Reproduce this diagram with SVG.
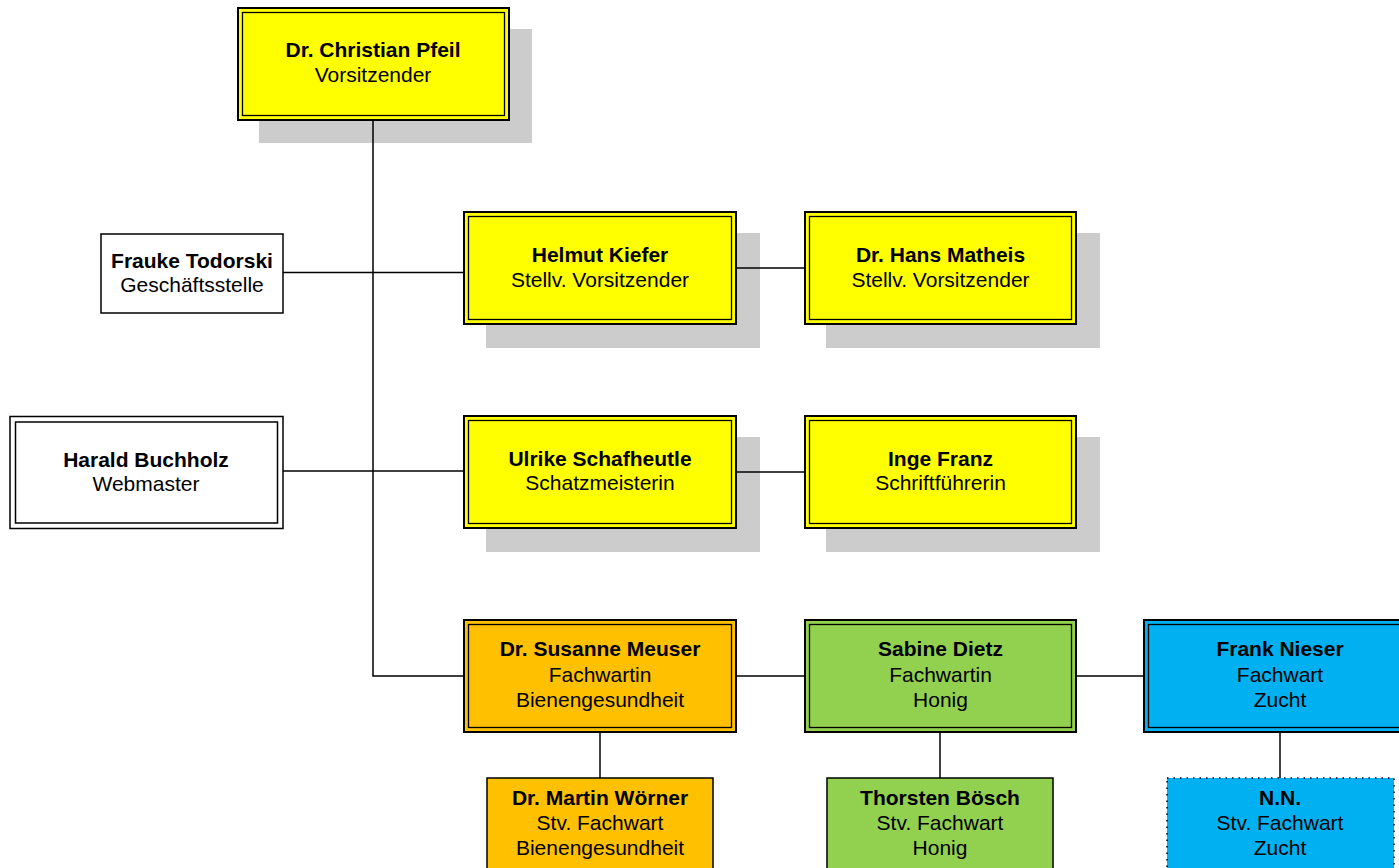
<svg xmlns="http://www.w3.org/2000/svg" width="1399" height="868" viewBox="0 0 1399 868">
<style>
.shadow{fill:#cccccc;stroke:none}
.o{stroke:#000;stroke-width:2;fill:none}
.i{stroke:#000;stroke-width:1.3;fill:none}
.s{stroke:#000;stroke-width:1.5}
.ln{stroke:#000;stroke-width:1.5;fill:none}
.y{fill:#ffff00}
.or{fill:#ffc000}
.g{fill:#92d050}
.b{fill:#00b0f0}
.w{fill:#ffffff}
text{font-family:"Liberation Sans",Arial,sans-serif;font-size:21px;text-anchor:middle;fill:#000}
.bd{font-weight:bold}
</style>
<rect width="1399" height="868" fill="#ffffff"/>
<g id="shadows">
<rect class="shadow" x="259" y="29" width="273" height="114"/>
<rect class="shadow" x="486" y="233" width="274" height="115"/>
<rect class="shadow" x="826" y="233" width="274" height="115"/>
<rect class="shadow" x="486" y="437" width="274" height="115"/>
<rect class="shadow" x="826" y="437" width="274" height="115"/>
</g>
<g id="connectors">
<path class="ln" d="M373,120 V676 H463"/>
<path class="ln" d="M283,272.5 H463"/>
<path class="ln" d="M283,471 H463"/>
<path class="ln" d="M737,268 H804"/>
<path class="ln" d="M737,472 H804"/>
<path class="ln" d="M737,676 H804"/>
<path class="ln" d="M1077,676 H1143"/>
<path class="ln" d="M600,733 V778"/>
<path class="ln" d="M940,733 V778"/>
<path class="ln" d="M1280,733 V778"/>
</g>
<g id="pfeil">
<rect class="y o" x="238" y="8" width="271" height="112"/>
<rect class="i" x="242.5" y="12.5" width="262" height="103"/>
<text x="373" y="57" class="bd">Dr. Christian Pfeil</text>
<text x="373" y="82">Vorsitzender</text>
</g>
<g id="todorski">
<rect class="w s" x="101" y="234" width="182" height="79"/>
<text x="192" y="268" class="bd">Frauke Todorski</text>
<text x="192" y="292">Geschäftsstelle</text>
</g>
<g id="buchholz">
<rect class="w s" x="10" y="416.5" width="273" height="112"/>
<rect class="ln" x="15.5" y="422" width="262" height="101"/>
<text x="146" y="467" class="bd">Harald Buchholz</text>
<text x="146" y="491">Webmaster</text>
</g>
<g id="kiefer">
<rect class="y o" x="464" y="212" width="272" height="112"/>
<rect class="i" x="468.5" y="216.5" width="263" height="103"/>
<text x="600" y="262" class="bd">Helmut Kiefer</text>
<text x="600" y="287">Stellv. Vorsitzender</text>
</g>
<g id="matheis">
<rect class="y o" x="805" y="212" width="271" height="112"/>
<rect class="i" x="809.5" y="216.5" width="262" height="103"/>
<text x="940.5" y="262" class="bd">Dr. Hans Matheis</text>
<text x="940.5" y="287">Stellv. Vorsitzender</text>
</g>
<g id="schafheutle">
<rect class="y o" x="464" y="416" width="272" height="112"/>
<rect class="i" x="468.5" y="420.5" width="263" height="103"/>
<text x="600" y="466" class="bd">Ulrike Schafheutle</text>
<text x="600" y="490">Schatzmeisterin</text>
</g>
<g id="franz">
<rect class="y o" x="805" y="416" width="271" height="112"/>
<rect class="i" x="809.5" y="420.5" width="262" height="103"/>
<text x="940.5" y="466" class="bd">Inge Franz</text>
<text x="940.5" y="490">Schriftführerin</text>
</g>
<g id="meuser">
<rect class="or o" x="464" y="620" width="272" height="112"/>
<rect class="i" x="468.5" y="624.5" width="263" height="103"/>
<text x="600" y="656" class="bd">Dr. Susanne Meuser</text>
<text x="600" y="682">Fachwartin</text>
<text x="600" y="707">Bienengesundheit</text>
</g>
<g id="dietz">
<rect class="g o" x="805" y="620" width="271" height="112"/>
<rect class="i" x="809.5" y="624.5" width="262" height="103"/>
<text x="940.5" y="656" class="bd">Sabine Dietz</text>
<text x="940.5" y="682">Fachwartin</text>
<text x="940.5" y="707">Honig</text>
</g>
<g id="nieser">
<rect class="b o" x="1144" y="620" width="272" height="112"/>
<rect class="i" x="1148.5" y="624.5" width="263" height="103"/>
<text x="1280" y="656" class="bd">Frank Nieser</text>
<text x="1280" y="682">Fachwart</text>
<text x="1280" y="707">Zucht</text>
</g>
<g id="woerner">
<rect class="or s" x="487" y="778" width="226" height="110"/>
<text x="600" y="805" class="bd">Dr. Martin Wörner</text>
<text x="600" y="830">Stv. Fachwart</text>
<text x="600" y="855">Bienengesundheit</text>
</g>
<g id="boesch">
<rect class="g s" x="827" y="778" width="226" height="110"/>
<text x="940" y="805" class="bd">Thorsten Bösch</text>
<text x="940" y="830">Stv. Fachwart</text>
<text x="940" y="855">Honig</text>
</g>
<g id="nn">
<rect class="b" x="1167" y="778" width="227" height="110" stroke="#000" stroke-width="1.5" stroke-dasharray="1.5 5"/>
<text x="1280" y="805" class="bd">N.N.</text>
<text x="1280" y="830">Stv. Fachwart</text>
<text x="1280" y="855">Zucht</text>
</g>
</svg>
